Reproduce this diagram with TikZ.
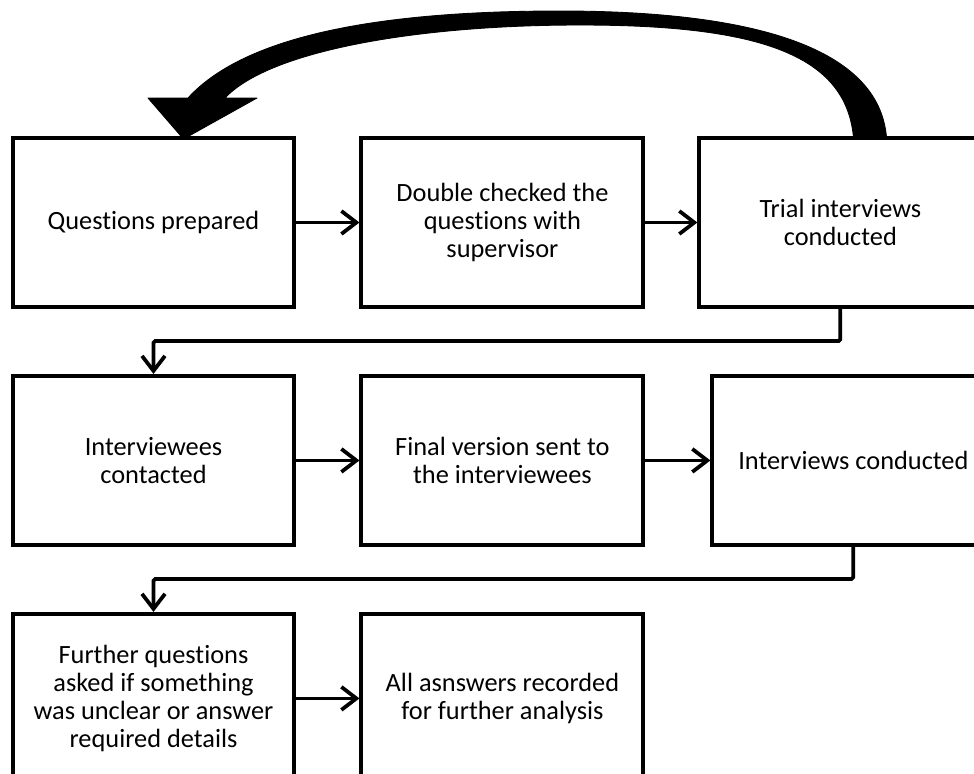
\documentclass[tikz,border=0pt]{standalone}
\usepackage{fontspec}
\setmainfont{Carlito}[Ligatures=NoCommon]
\usepackage{tikz}
\usetikzlibrary{arrows.meta,positioning,calc}

\begin{document}
\begin{tikzpicture}[x=0.02cm,y=-0.02cm,node distance=1.3cm and 1.26cm,every node/.style={font=\fontsize{15}{16.1}\selectfont,align=center},box/.style={draw,line width=0.08cm,minimum width=5.64cm,minimum height=3.38cm,inner sep=0pt},arr/.style={-{Straight Barb[length=3mm,width=4.6mm]},line width=0.075cm}]
\useasboundingbox[fill=white] (0,0) rectangle (974,774);
\node[box] (prep) at (153.5,222.5) {Questions prepared};
\node[box,right=of prep] (check) {Double checked the\\ questions with\\ supervisor};
\node[box,right=1.04cm of check] (trial) {Trial interviews\\ conducted};
\node[box,below=of prep] (contact) {Interviewees\\ contacted};
\node[box,right=of contact] (final) {Final version sent to\\ the interviewees};
\node[box,right=1.3cm of final] (interv) {Interviews conducted};
\node[box,below=of contact] (further) {Further questions\\ asked if something\\ was unclear or answer\\ required details};
\node[box,right=of further] (record) {All asnswers recorded\\ for further analysis};
% straight arrows
\draw[arr] (prep)--(check);
\draw[arr] (check)--(trial);
\draw[arr] (contact)--(final);
\draw[arr] (final)--(interv);
\draw[arr] (further)--(record);
\draw[arr,rounded corners=1pt] (trial.south)--++(0,32)-|(contact.north);
\draw[arr,rounded corners=1pt] (interv.south)--++(0,32)-|(further.north);
% curved arrow back to the start
\coordinate (cout) at ($(trial.north)+(46,0)$);
\coordinate (cin) at ($(trial.north)+(13,0)$);
\coordinate (ctip) at ($(prep.north)+(30,3)$);
\fill[draw,line width=0.5pt,line join=round] (cout) .. controls (878,50) and (760,11) .. (560,11) .. controls (400,11) and (250,30) .. (188,98) -- (148,98) -- (ctip) -- (257,98) -- (225,98) .. controls (270,50) and (420,25) .. (580,25) .. controls (760,25) and (845,55) .. (cin) -- cycle;
\end{tikzpicture}
\end{document}
